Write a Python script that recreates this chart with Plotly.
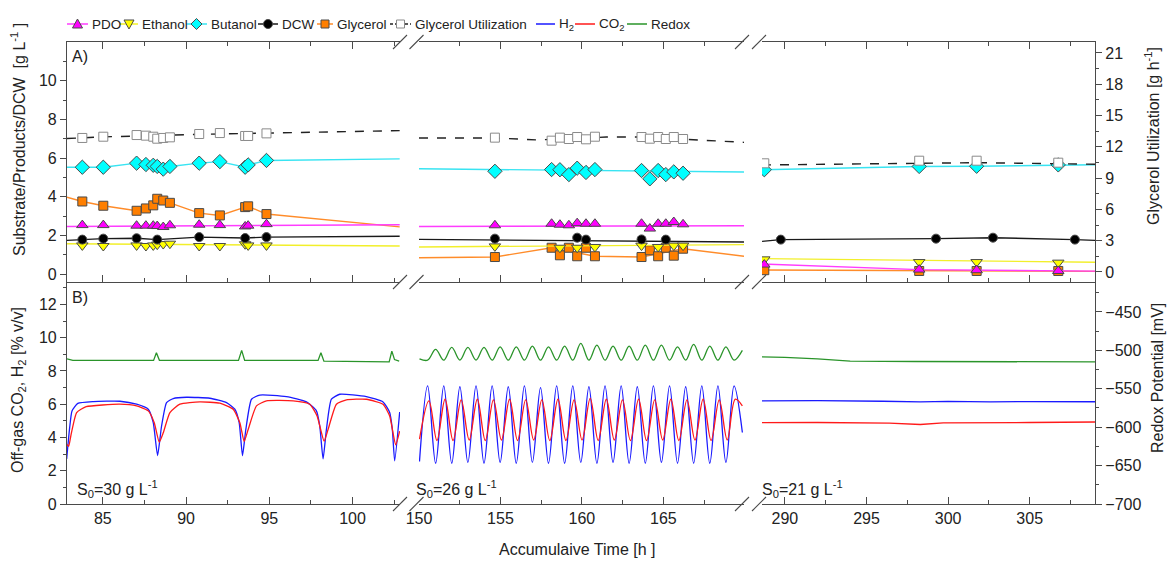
import plotly.graph_objects as go

FONT = "Arial, 'Liberation Sans', sans-serif"

# ======================= Panel A data =======================
# ---- Segment 1 (S0 = 30 g/L) ----
t1 = [83.77, 85.03, 87.03, 87.59, 88.03, 88.27, 88.63, 89.03, 90.79, 92.03, 93.55, 93.73, 94.83]
gu1 = [12.85, 12.97, 13.13, 13.07, 12.97, 12.78, 12.85, 12.91, 13.23, 13.32, 13.04, 13.04, 13.29]
bu1 = [5.53, 5.53, 5.74, 5.67, 5.63, 5.57, 5.43, 5.57, 5.74, 5.82, 5.53, 5.65, 5.88]
gl1 = [3.76, 3.54, 3.28, 3.40, 3.56, 3.90, 3.81, 3.69, 3.16, 3.04, 3.47, 3.51, 3.11]
pdo1 = [2.54, 2.54, 2.51, 2.51, 2.51, 2.49, 2.44, 2.53, 2.56, 2.54, 2.47, 2.51, 2.59]
et1 = [1.49, 1.46, 1.49, 1.46, 1.49, 1.53, 1.56, 1.58, 1.46, 1.46, 1.55, 1.49, 1.49]
t1_dcw = [83.77, 85.03, 87.03, 88.27, 90.79, 93.55, 94.83]
dcw1 = [1.79, 1.84, 1.86, 1.79, 1.92, 1.87, 1.92]
# trend lines, segment 1
gu1_fit_t = [82.85, 85.0, 90.8, 95.0, 102.83]
gu1_fit = [12.8, 12.95, 13.2, 13.3, 13.55]
bu1_fit_t = [82.85, 83.77, 85.03, 87.03, 87.59, 88.03, 88.27, 88.63, 89.03, 90.79, 92.03, 93.55, 93.73, 94.83, 102.83]
bu1_fit = [5.53, 5.53, 5.53, 5.74, 5.67, 5.63, 5.57, 5.43, 5.57, 5.74, 5.82, 5.53, 5.65, 5.88, 5.96]
gl1_fit_t = [82.85, 83.77, 85.03, 87.03, 87.59, 88.03, 88.27, 88.63, 89.03, 90.79, 92.03, 93.55, 93.73, 94.83, 102.83]
gl1_fit = [3.98, 3.76, 3.54, 3.28, 3.40, 3.56, 3.90, 3.81, 3.69, 3.16, 3.04, 3.47, 3.51, 3.11, 2.45]
pdo1_fit_t = [82.85, 102.83]
pdo1_fit = [2.47, 2.56]
et1_fit_t = [82.85, 102.83]
et1_fit = [1.58, 1.46]
dcw1_fit_t = [82.85, 83.77, 85.03, 87.03, 88.27, 90.79, 93.55, 94.83, 102.83]
dcw1_fit = [1.75, 1.79, 1.84, 1.86, 1.79, 1.92, 1.87, 1.92, 1.96]

# ---- Segment 2 (S0 = 26 g/L) ----
t2 = [154.66, 158.14, 158.65, 159.20, 159.71, 160.25, 160.80, 163.66, 164.17, 164.68, 165.15, 165.64, 166.21]
gu2 = [12.88, 12.59, 12.88, 12.75, 12.94, 12.72, 12.97, 12.94, 12.78, 12.94, 12.75, 12.94, 12.75]
bu2 = [5.32, 5.41, 5.40, 5.15, 5.48, 5.26, 5.41, 5.36, 4.93, 5.36, 5.15, 5.29, 5.22]
gl2 = [0.89, 1.37, 0.98, 1.37, 0.93, 1.37, 0.93, 0.89, 1.24, 0.93, 1.37, 0.96, 1.32]
pdo2 = [2.53, 2.61, 2.56, 2.53, 2.64, 2.61, 2.61, 2.61, 2.36, 2.61, 2.61, 2.70, 2.58]
t2_et = [154.66, 158.65, 159.71, 160.80, 163.66, 164.68, 165.64, 166.21]
et2 = [1.44, 1.37, 1.37, 1.41, 1.48, 1.41, 1.48, 1.48]
t2_dcw = [154.66, 159.71, 160.25, 163.66, 165.15]
dcw2 = [1.84, 1.89, 1.79, 1.80, 1.79]
gu2_fit_t = [150.0, 154.66, 157.3, 161.5, 163.5, 167.0, 169.95]
gu2_fit = [12.85, 12.85, 12.66, 12.94, 12.94, 12.66, 12.43]
bu2_fit_t = [150.0, 169.95]
bu2_fit = [5.45, 5.28]
pdo2_fit_t = [150.0, 169.95]
pdo2_fit = [2.47, 2.51]
dcw2_fit_t = [150.0, 169.95]
dcw2_fit = [1.80, 1.67]
et2_fit_t = [150.0, 169.95]
et2_fit = [1.41, 1.53]
gl2_fit_t = [150.0, 154.66, 158.14, 160.80, 163.66, 166.21, 169.95]
gl2_fit = [0.85, 0.89, 1.37, 0.93, 0.89, 1.32, 0.93]

# ---- Segment 3 (S0 = 21 g/L) ----
t3 = [288.74, 298.23, 301.75, 306.75]
gu3 = [10.42, 10.67, 10.67, 10.48]
bu3 = [5.40, 5.57, 5.58, 5.65]
et3 = [0.77, 0.63, 0.63, 0.60]
pdo3 = [0.50, 0.24, 0.21, 0.17]
gl3 = [0.21, 0.17, 0.17, 0.17]
t3_dcw = [289.75, 299.26, 302.75, 307.77]
dcw3 = [1.79, 1.84, 1.89, 1.79]
gu3_fit_t = [288.6, 298.23, 301.75, 309.0]
gu3_fit = [10.26, 10.42, 10.48, 10.33]
bu3_fit_t = [288.6, 298.23, 301.75, 306.75, 309.0]
bu3_fit = [5.40, 5.57, 5.58, 5.65, 5.66]
dcw3_fit_t = [288.6, 289.75, 299.26, 302.75, 307.77, 309.0]
dcw3_fit = [1.70, 1.79, 1.84, 1.89, 1.79, 1.75]
et3_fit_t = [288.6, 309.0]
et3_fit = [0.81, 0.62]
pdo3_fit_t = [288.6, 298.23, 309.0]
pdo3_fit = [0.53, 0.24, 0.16]
gl3_fit_t = [288.6, 309.0]
gl3_fit = [0.22, 0.15]

# ======================= Panel B data =======================
# Segment 1
h2_1_t = [82.83, 83.0, 83.15, 83.5, 84.43, 86.03, 87.03, 87.73, 88.03, 88.29, 88.53, 88.83, 89.23, 90.03,
          91.43, 92.43, 92.93, 93.19, 93.39, 93.59, 93.93, 94.43, 96.03, 97.23, 97.83, 98.03, 98.23, 98.43,
          98.73, 99.23, 100.83, 101.83, 102.23, 102.39, 102.53, 102.83]
h2_1 = [2.71, 4.5, 5.6, 6.05, 6.16, 6.18, 6.0, 5.7, 4.89, 2.91, 4.69, 6.1, 6.34, 6.42,
        6.36, 6.1, 5.7, 4.89, 2.91, 4.48, 6.3, 6.55, 6.46, 6.14, 5.6, 4.69, 2.71, 4.48,
        6.3, 6.6, 6.46, 6.14, 5.5, 4.48, 2.6, 5.53]
co2_1_t = [82.83, 82.95, 83.1, 83.43, 84.0, 86.0, 87.03, 87.73, 88.09, 88.39, 88.63, 89.03, 89.63, 90.83,
           92.03, 92.83, 93.23, 93.49, 93.73, 94.23, 94.83, 96.43, 97.43, 97.87, 98.29, 98.53, 99.03, 99.63,
           100.83, 101.83, 102.23, 102.59, 102.83]
co2_1 = [3.6, 3.47, 4.2, 5.5, 5.85, 6.0, 5.9, 5.6, 4.89, 3.72, 4.28, 5.5, 6.0, 6.14,
         6.06, 5.7, 4.89, 3.76, 4.48, 5.9, 6.2, 6.2, 6.0, 5.29, 3.78, 4.48, 6.0, 6.26,
         6.3, 6.0, 5.29, 3.56, 4.38]
redox1_t = [82.85, 83.2, 88.05, 88.22, 88.4, 93.15, 93.34, 93.52, 97.93, 98.1, 98.28, 102.2, 102.36, 102.52, 102.8]
redox1 = [-511, -513, -513, -503, -513, -513, -500, -513, -513, -503, -514, -515, -501, -512, -514]

# Segment 2 (peaks / troughs of the oscillations)
h2_2_t = [150.03, 150.53, 151.02, 151.52, 152.01, 152.51, 153.00, 153.50, 153.99, 154.49, 154.98, 155.48,
          155.97, 156.47, 156.96, 157.46, 157.95, 158.45, 158.94, 159.44, 159.93, 160.43, 160.92, 161.42,
          161.91, 162.41, 162.90, 163.40, 163.89, 164.39, 164.88, 165.38, 165.87, 166.37, 166.86, 167.36,
          167.85, 168.35, 168.84, 169.34, 169.85]
h2_2 = [2.56, 7.10, 2.45, 7.10, 2.45, 7.05, 2.50, 7.10, 2.45, 7.10, 2.50, 7.05, 2.45, 7.10, 2.50, 7.00,
        2.45, 7.10, 2.45, 7.10, 2.50, 7.05, 2.45, 7.10, 2.50, 7.10, 2.45, 7.05, 2.45, 7.10, 2.50, 7.10,
        2.45, 7.05, 2.45, 7.10, 2.45, 7.10, 2.50, 7.10, 4.30]
co2_2_t = [150.03, 150.61, 151.10, 151.60, 152.09, 152.59, 153.08, 153.58, 154.07, 154.57, 155.06, 155.56,
           156.05, 156.55, 157.04, 157.54, 158.03, 158.53, 159.02, 159.52, 160.01, 160.51, 161.00, 161.50,
           161.99, 162.49, 162.98, 163.48, 163.97, 164.47, 164.96, 165.46, 165.95, 166.45, 166.94, 167.44,
           167.93, 168.43, 168.92, 169.42, 169.85]
co2_2 = [3.90, 6.20, 3.82, 6.30, 3.82, 6.26, 3.85, 6.30, 3.82, 6.26, 3.85, 6.30, 3.82, 6.26, 3.85, 6.26,
         3.82, 6.30, 3.82, 6.26, 3.85, 6.35, 3.82, 6.30, 3.85, 6.26, 3.82, 6.30, 3.82, 6.26, 3.85, 6.30,
         3.82, 6.26, 3.85, 6.30, 3.82, 6.26, 3.85, 6.30, 5.90]
redox2_t = [150.03, 150.53, 151.02, 151.52, 152.01, 152.51, 153.00, 153.50, 153.99, 154.49, 154.98, 155.48,
            155.97, 156.47, 156.96, 157.46, 157.95, 158.45, 158.94, 159.44, 159.93, 160.43, 160.92, 161.42,
            161.91, 162.41, 162.90, 163.40, 163.89, 164.39, 164.88, 165.38, 165.87, 166.37, 166.86, 167.36,
            167.85, 168.35, 168.84, 169.34, 169.85]
redox2 = [-511, -512.8, -498.8, -512.8, -496.2, -512.8, -496.2, -512.8, -496.2, -512.8, -495.4, -512.8,
          -495.4, -512.8, -494.5, -512.8, -495.4, -512.8, -494.5, -512.8, -491.0, -512.8, -493.2, -512.8,
          -494.5, -512.8, -494.5, -512.8, -493.2, -512.8, -493.2, -512.8, -495.4, -512.8, -492.3, -512.8,
          -494.5, -512.8, -495.4, -512.8, -500.0]

# Segment 3
h2_3_t = [288.6, 292.0, 296.0, 298.3, 300.0, 302.6, 305.0, 309.0]
h2_3 = [6.20, 6.22, 6.18, 6.14, 6.17, 6.14, 6.16, 6.15]
co2_3_t = [288.6, 292.0, 296.4, 298.3, 299.7, 302.0, 305.0, 309.0]
co2_3 = [4.89, 4.90, 4.86, 4.78, 4.88, 4.88, 4.90, 4.93]
redox3_t = [288.6, 290.0, 292.0, 294.0, 298.0, 302.0, 309.0]
redox3 = [-508.5, -509.0, -511.0, -514.0, -514.5, -515.0, -515.0]

# x-axis segment ranges and labels
seg_ranges = [[82.85, 102.85], [150.0, 169.95], [288.6, 309.0]]
seg_labels = ["S<sub>0</sub>=30 g L<sup>-1</sup>", "S<sub>0</sub>=26 g L<sup>-1</sup>",
              "S<sub>0</sub>=21 g L<sup>-1</sup>"]
legend_names = ["PDO", "Ethanol", "Butanol", "DCW", "Glycerol", "Glycerol Utilization",
                "H<sub>2</sub>", "CO<sub>2</sub>", "Redox"]

# ======================= styles =======================
STY = {
    "PDO": dict(fill="#ff00ff", line="#ff3cff", symbol="triangle-up", size=10),
    "Ethanol": dict(fill="#ffff00", line="#f2ef2a", symbol="triangle-down", size=10),
    "Butanol": dict(fill="#00ffff", line="#38e4f2", symbol="diamond", size=11),
    "DCW": dict(fill="#000000", line="#1a1a1a", symbol="circle", size=9),
    "Glycerol": dict(fill="#ff7f00", line="#ff8c2a", symbol="square", size=9),
    "Glycerol Utilization": dict(fill="#ffffff", line="#222222", symbol="square", size=9),
}
H2C, CO2C, REDC = "#1a1aff", "#ff1a1a", "#2a942a"

fig = go.Figure()
TOPX = ["x4", "x5", "x6"]
BOTX = ["x", "x2", "x3"]


def mline_col(key):
    return "#8a8a8a" if key == "Glycerol Utilization" else "#4a4a4a"


def top(seg, t, v, ft, fv, key, right=False):
    s = STY[key]
    ya = "y2" if right else "y"
    dash = "dash" if key == "Glycerol Utilization" else "solid"
    fig.add_trace(go.Scatter(x=ft, y=fv, mode="lines", xaxis=TOPX[seg], yaxis=ya,
                             line=dict(color=s["line"], width=1.4, dash=dash),
                             showlegend=False, hoverinfo="skip"))
    fig.add_trace(go.Scatter(x=t, y=v, mode="markers", xaxis=TOPX[seg], yaxis=ya,
                             marker=dict(symbol=s["symbol"], size=s["size"], color=s["fill"],
                                         line=dict(color=mline_col(key), width=1)),
                             showlegend=False, name=key))


# ---- Panel B traces ----
for seg, (ht, hv, ct, cv, rt, rv) in enumerate([
        (h2_1_t, h2_1, co2_1_t, co2_1, redox1_t, redox1),
        (h2_2_t, h2_2, co2_2_t, co2_2, redox2_t, redox2),
        (h2_3_t, h2_3, co2_3_t, co2_3, redox3_t, redox3)]):
    gshape = "spline" if seg == 1 else "linear"
    lshape = "linear" if seg == 2 else "spline"
    sm = 1.0 if seg == 1 else 0.5
    fig.add_trace(go.Scatter(x=rt, y=rv, mode="lines", xaxis=BOTX[seg], yaxis="y4", name="Redox",
                             line=dict(color=REDC, width=1.3, shape=gshape), showlegend=False))
    fig.add_trace(go.Scatter(x=ht, y=hv, mode="lines", xaxis=BOTX[seg], yaxis="y3", name="H2",
                             line=dict(color=H2C, width=1.3, shape=lshape, smoothing=sm),
                             showlegend=False))
    fig.add_trace(go.Scatter(x=ct, y=cv, mode="lines", xaxis=BOTX[seg], yaxis="y3", name="CO2",
                             line=dict(color=CO2C, width=1.3, shape=lshape, smoothing=sm),
                             showlegend=False))

# ---- Panel A traces ----
top(0, t1, gu1, gu1_fit_t, gu1_fit, "Glycerol Utilization", right=True)
top(0, t1, gl1, gl1_fit_t, gl1_fit, "Glycerol")
top(0, t1, et1, et1_fit_t, et1_fit, "Ethanol")
top(0, t1_dcw, dcw1, dcw1_fit_t, dcw1_fit, "DCW")
top(0, t1, pdo1, pdo1_fit_t, pdo1_fit, "PDO")
top(0, t1, bu1, bu1_fit_t, bu1_fit, "Butanol")

top(1, t2, gu2, gu2_fit_t, gu2_fit, "Glycerol Utilization", right=True)
top(1, t2, gl2, gl2_fit_t, gl2_fit, "Glycerol")
top(1, t2_et, et2, et2_fit_t, et2_fit, "Ethanol")
top(1, t2_dcw, dcw2, dcw2_fit_t, dcw2_fit, "DCW")
top(1, t2, pdo2, pdo2_fit_t, pdo2_fit, "PDO")
top(1, t2, bu2, bu2_fit_t, bu2_fit, "Butanol")

top(2, t3, gu3, gu3_fit_t, gu3_fit, "Glycerol Utilization", right=True)
top(2, t3, gl3, gl3_fit_t, gl3_fit, "Glycerol")
top(2, t3, et3, et3_fit_t, et3_fit, "Ethanol")
top(2, t3_dcw, dcw3, dcw3_fit_t, dcw3_fit, "DCW")
top(2, t3, pdo3, pdo3_fit_t, pdo3_fit, "PDO")
top(2, t3, bu3, bu3_fit_t, bu3_fit, "Butanol")

# ======================= layout =======================
W, H = 1170, 561
L, R, T, B = 67, 75, 42, 57
PW, PH = W - L - R, H - T - B


def px_x(p):
    return (p - L) / PW


def px_y(p):
    return (H - B - p) / PH


doms = [[px_x(67), px_x(400)], [px_x(419), px_x(744)], [px_x(762), px_x(1095)]]
split = px_y(282)
AX = "#4a4a4a"
tickf = dict(family=FONT, size=16, color="#222")

xcommon = dict(showgrid=False, zeroline=False, showline=True, linecolor=AX, linewidth=1.2,
               ticks="inside", ticklen=7, tickcolor=AX, dtick=5, tick0=0,
               minor=dict(dtick=2.5, tick0=0, ticks="inside", ticklen=4, tickcolor=AX),
               tickfont=tickf)
layout = dict(width=W, height=H, autosize=False, margin=dict(l=L, r=R, t=T, b=B),
              paper_bgcolor="white", plot_bgcolor="white", font=dict(family=FONT, color="#222"),
              showlegend=False)
for i in range(3):
    kb = "xaxis" if i == 0 else f"xaxis{i + 1}"
    layout[kb] = dict(xcommon, domain=doms[i], range=seg_ranges[i], anchor="y3", showticklabels=True)
    layout[f"xaxis{i + 4}"] = dict(xcommon, domain=doms[i], range=seg_ranges[i], anchor="y",
                                   showticklabels=False, mirror="ticks")

ycommon = dict(showgrid=False, zeroline=False, showline=True, linecolor=AX, linewidth=1.2,
               ticks="outside", ticklen=6, tickcolor=AX, tickfont=tickf)
layout["yaxis"] = dict(ycommon, domain=[split, 1], range=[-0.4, 12], anchor="x4",
                       tickvals=[0, 2, 4, 6, 8, 10],
                       minor=dict(tickmode="array", tickvals=[1, 3, 5, 7, 9, 11], ticks="outside",
                                  ticklen=3, tickcolor=AX))
layout["yaxis2"] = dict(ycommon, overlaying="y", side="right", anchor="x6", range=[-0.96, 22.05],
                        dtick=3, tick0=0,
                        minor=dict(dtick=1.5, tick0=0, ticks="outside", ticklen=3, tickcolor=AX))
layout["yaxis3"] = dict(ycommon, domain=[0, split], range=[0, 13.35], anchor="x", dtick=2, tick0=0,
                        minor=dict(dtick=1, tick0=0, ticks="outside", ticklen=3, tickcolor=AX))
layout["yaxis4"] = dict(ycommon, overlaying="y3", side="right", anchor="x3", range=[-700, -411],
                        dtick=50, tick0=-700,
                        minor=dict(dtick=25, tick0=-700, ticks="outside", ticklen=3, tickcolor=AX))
fig.update_layout(**layout)

# ---- annotations ----
ann = []


def note(text, x, y, size=16, angle=0, xa="center", ya="middle"):
    ann.append(dict(text=text, x=px_x(x), y=px_y(y), xref="paper", yref="paper", showarrow=False,
                    textangle=angle, xanchor=xa, yanchor=ya,
                    font=dict(family=FONT, size=size, color="#222")))


note("Substrate/Products/DCW  [g L<sup>-1</sup> ]", 18, 140, size=16, angle=-90)
note("Off-gas CO<sub>2</sub>, H<sub>2</sub> [% v/v]", 18, 390, size=16, angle=-90)
note("Glycerol Utilization [g h<sup>-1</sup>]", 1152, 136, size=16, angle=-90)
note("Redox Potential [mV]", 1157, 378, size=16, angle=-90)
note("Accumulaive Time [h ]", 577, 549, size=16)
note("A)", 70, 57, size=16, xa="left")
note("B)", 70, 297, size=16, xa="left")
for txt, xs in zip(seg_labels, [75, 414, 760]):
    note(txt, xs, 489, size=16, xa="left")

# ---- legend (key samples drawn as shapes, names as text) ----
shapes = []
LEG_Y = 24
leg_pos = [(67, 88), (120, 138), (186, 207), (258, 278), (317, 333), (390, 411),
           (536, 555), (575, 595), (627, 647)]
leg_keys = ["PDO", "Ethanol", "Butanol", "DCW", "Glycerol", "Glycerol Utilization", None, None, None]
leg_line = [None] * 6 + [H2C, CO2C, REDC]


def pth(pts):
    return "M " + " L ".join(f"{px_x(a):.5f},{px_y(b):.5f}" for a, b in pts) + " Z"


for (x0, x1), key, lc, nm in zip(leg_pos, leg_keys, leg_line, legend_names):
    col = STY[key]["line"] if key else lc
    dash = "dash" if key == "Glycerol Utilization" else "solid"
    shapes.append(dict(type="line", xref="paper", yref="paper", x0=px_x(x0), x1=px_x(x1),
                       y0=px_y(LEG_Y), y1=px_y(LEG_Y),
                       line=dict(color=col, width=1.5, dash="3px,2px" if dash == "dash" else "solid")))
    note(nm, x1 + 1.5, LEG_Y, size=13.5, xa="left")
    if key:
        s = STY[key]
        cx, cy = (x0 + x1) / 2, LEG_Y
        mk = dict(fillcolor=s["fill"], line=dict(color=mline_col(key), width=1),
                  xref="paper", yref="paper")
        if s["symbol"] == "triangle-up":
            shapes.append(dict(mk, type="path", path=pth([(cx, cy - 5), (cx + 5, cy + 4), (cx - 5, cy + 4)])))
        elif s["symbol"] == "triangle-down":
            shapes.append(dict(mk, type="path", path=pth([(cx, cy + 5), (cx + 5, cy - 4), (cx - 5, cy - 4)])))
        elif s["symbol"] == "diamond":
            shapes.append(dict(mk, type="path", path=pth([(cx, cy - 5.5), (cx + 5.5, cy), (cx, cy + 5.5), (cx - 5.5, cy)])))
        elif s["symbol"] == "circle":
            shapes.append(dict(mk, type="circle", x0=px_x(cx - 4.5), x1=px_x(cx + 4.5),
                               y0=px_y(cy + 4.5), y1=px_y(cy - 4.5)))
        else:
            shapes.append(dict(mk, type="rect", x0=px_x(cx - 4), x1=px_x(cx + 4),
                               y0=px_y(cy + 4), y1=px_y(cy - 4)))

# ---- axis-break marks ----
for cx in [400, 416.5, 742, 759]:
    for cy in [42, 282, 504]:
        shapes.append(dict(type="line", xref="paper", yref="paper",
                           x0=px_x(cx - 7), y0=px_y(cy + 7), x1=px_x(cx + 7), y1=px_y(cy - 7),
                           line=dict(color=AX, width=1.1)))
fig.update_layout(annotations=ann, shapes=shapes)

fig.write_html("out.html")
